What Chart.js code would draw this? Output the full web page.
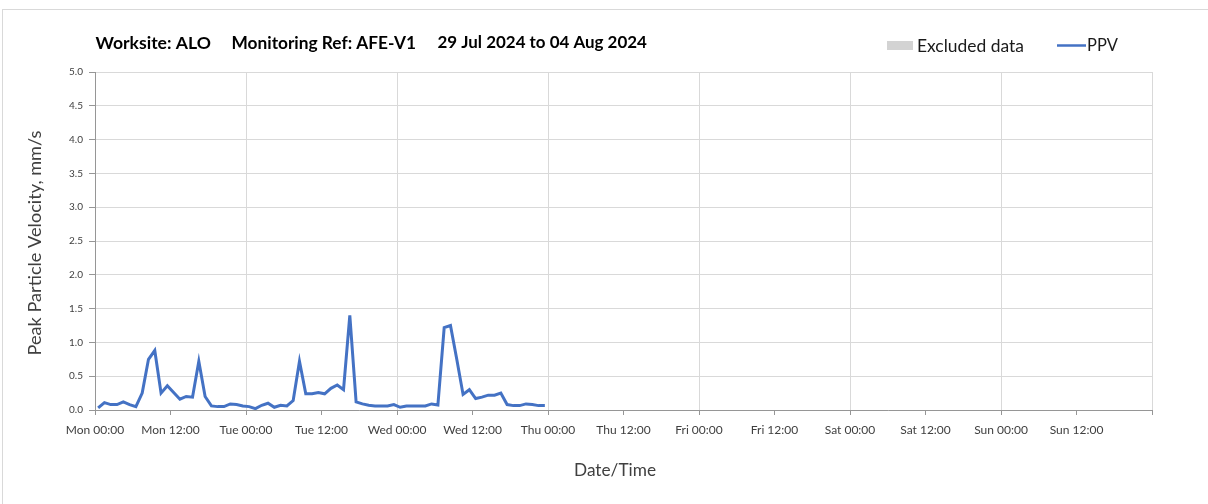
<!DOCTYPE html>
<html><head><meta charset="utf-8">
<script src="https://cdn.jsdelivr.net/npm/chart.js@4.4.1/dist/chart.umd.min.js"></script>
<style>
html,body{margin:0;padding:0;background:#fff;overflow:hidden;width:1208px;height:504px;}
#frame{position:absolute;left:2px;top:9px;width:1240px;height:530px;border:1px solid #d9d9d9;box-sizing:border-box;}
#wrap{position:absolute;left:0;top:0;width:1208px;height:504px;}
</style></head><body>
<div id="frame"></div>
<div id="wrap"><canvas id="c" width="1208" height="504"></canvas></div>
<script>
// ---- data ----
const titleParts = ['Worksite: ALO', 'Monitoring Ref: AFE-V1', '29 Jul 2024 to 04 Aug 2024'];
const legendLabels = ['Excluded data', 'PPV'];
const xAxisTitle = 'Date/Time';
const yAxisTitle = 'Peak Particle Velocity, mm/s';
const dayNames = ['Mon', 'Tue', 'Wed', 'Thu', 'Fri', 'Sat', 'Sun'];
const tickHours = [0, 12, 24, 36, 48, 60, 72, 84, 96, 108, 120, 132, 144, 156, 168];
const yTicks = [0, 0.5, 1, 1.5, 2, 2.5, 3, 3.5, 4, 4.5, 5];
// hourly PPV samples (mm/s), first sample at Mon 00:30
const firstSampleHour = 0.5;
const ppv = [
  0.03, 0.11, 0.08, 0.08, 0.12, 0.08, 0.05, 0.25, 0.75, 0.88, 0.25, 0.36,
  0.26, 0.16, 0.20, 0.19, 0.72, 0.20, 0.06, 0.05, 0.05, 0.09, 0.08, 0.06,
  0.05, 0.02, 0.07, 0.10, 0.04, 0.07, 0.06, 0.14, 0.72, 0.24, 0.24, 0.26,
  0.24, 0.32, 0.37, 0.30, 1.40, 0.12, 0.09, 0.07, 0.06, 0.06, 0.06, 0.08,
  0.04, 0.06, 0.06, 0.06, 0.06, 0.09, 0.075, 1.22, 1.25, 0.75, 0.23, 0.30,
  0.17, 0.19, 0.22, 0.22, 0.25, 0.08, 0.065, 0.065, 0.09, 0.08, 0.065, 0.065
];
// ---------------------------------------

const FONT = 'Lato, "Open Sans", sans-serif';
const points = ppv.map((v, i) => ({x: firstSampleHour + i, y: v}));

// set a font whose rendered width matches the reference text width
function fitFont(ctx, text, weight, width) {
  ctx.font = weight + ' 20px ' + FONT;
  const size = 20 * width / ctx.measureText(text).width;
  ctx.font = weight + ' ' + size.toFixed(2) + 'px ' + FONT;
}

const textPlugin = {
  id: 'texts',
  afterDraw(chart) {
    const ctx = chart.ctx;
    ctx.save();
    ctx.textBaseline = 'middle';
    // title
    ctx.fillStyle = '#000';
    const tx = [[95.5, 211], [231.5, 416], [437.5, 647]];
    titleParts.forEach((t, i) => {
      fitFont(ctx, t, 'bold', tx[i][1] - tx[i][0]);
      ctx.fillText(t, tx[i][0], 43);
    });
    // legend
    ctx.fillStyle = '#d3d3d3';
    ctx.fillRect(887, 41, 26, 9);
    ctx.fillStyle = '#1a1a1a';
    fitFont(ctx, legendLabels[0], 'normal', 107);
    ctx.fillText(legendLabels[0], 917, 46);
    ctx.strokeStyle = '#4472C4';
    ctx.lineWidth = 2.5;
    ctx.beginPath();
    ctx.moveTo(1057, 45.5);
    ctx.lineTo(1086, 45.5);
    ctx.stroke();
    ctx.font = '16.5px ' + FONT;
    ctx.fillText(legendLabels[1], 1087, 46);
    // axis titles
    ctx.fillStyle = '#404040';
    ctx.textAlign = 'center';
    fitFont(ctx, xAxisTitle, 'normal', 82);
    ctx.fillText(xAxisTitle, 615, 470);
    ctx.translate(35, 243);
    ctx.rotate(-Math.PI / 2);
    fitFont(ctx, yAxisTitle, 'normal', 225);
    ctx.fillText(yAxisTitle, 0, 0);
    ctx.restore();
  }
};

new Chart(document.getElementById('c'), {
  type: 'line',
  data: {
    datasets: [{
      label: legendLabels[1],
      data: points,
      borderColor: '#4472C4',
      borderWidth: 3,
      pointRadius: 0,
      tension: 0,
      fill: false
    }]
  },
  options: {
    responsive: false,
    animation: false,
    layout: {padding: {top: 72, right: 56, bottom: 0, left: 0}},
    plugins: {legend: {display: false}, tooltip: {enabled: false}},
    scales: {
      x: {
        type: 'linear',
        min: 0, max: 168,
        afterBuildTicks: s => { s.ticks = tickHours.map(v => ({value: v})); },
        afterFit: s => { s.height = 94; },
        ticks: {
          autoSkip: false, maxRotation: 0, minRotation: 0,
          padding: 8,
          color: '#404040',
          font: {family: FONT, size: 12},
          callback: v => v >= 168 ? '' : dayNames[Math.floor(v / 24)] + ' ' + (v % 24 === 0 ? '00' : '12') + ':00'
        },
        grid: {
          color: c => (c.tick && c.tick.value % 24 === 0) ? '#d9d9d9' : 'rgba(0,0,0,0)',
          tickColor: '#969696',
          tickLength: 5,
          lineWidth: 1
        },
        border: {display: true, color: '#969696', width: 1},
        title: {display: false}
      },
      y: {
        min: 0, max: 5,
        afterBuildTicks: s => { s.ticks = yTicks.map(v => ({value: v})); },
        afterFit: s => { s.width = 95; },
        ticks: {
          padding: 6,
          color: '#404040',
          font: {family: FONT, size: 10},
          callback: v => Number(v).toFixed(1)
        },
        grid: {color: '#d9d9d9', tickColor: '#969696', tickLength: 6, lineWidth: 1},
        border: {display: true, color: '#969696', width: 1},
        title: {display: false}
      }
    }
  },
  plugins: [textPlugin]
});
</script>
</body></html>
